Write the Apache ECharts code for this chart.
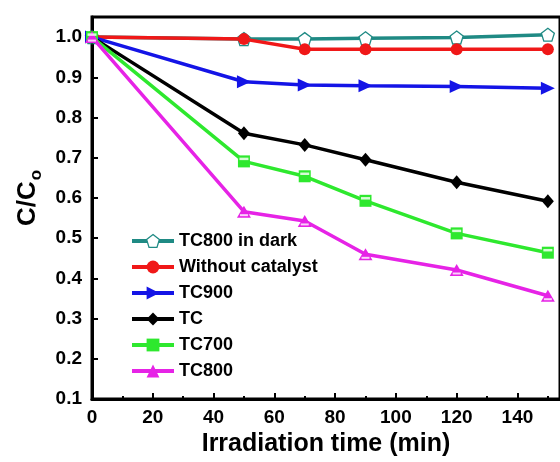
<!DOCTYPE html>
<html>
<head>
<meta charset="utf-8">
<script src="https://cdn.jsdelivr.net/npm/echarts@6/dist/echarts.min.js"></script>
<style>html,body{margin:0;padding:0;background:#fff}#c{width:560px;height:462px}</style>
</head>
<body>
<div id="c"></div>
<script>
const times = [0, 50, 70, 90, 120, 150];
const seriesNames = ['TC800 in dark', 'Without catalyst', 'TC900', 'TC', 'TC700', 'TC800'];
const tc800Dark = [1.0, 0.995, 0.995, 0.997, 0.999, 1.006];
const withoutCatalyst = [1.0, 0.995, 0.970, 0.970, 0.970, 0.970];
const tc900 = [1.0, 0.889, 0.881, 0.879, 0.877, 0.873];
const tc = [1.0, 0.761, 0.732, 0.695, 0.639, 0.592];
const tc700 = [1.0, 0.691, 0.654, 0.593, 0.512, 0.464];
const tc800 = [1.0, 0.566, 0.543, 0.460, 0.421, 0.357];
const xTicks = [0, 20, 40, 60, 80, 100, 120, 140];
const yTicks = [0.1, 0.2, 0.3, 0.4, 0.5, 0.6, 0.7, 0.8, 0.9, 1.0];

const allValues = [tc800Dark, withoutCatalyst, tc900, tc, tc700, tc800];
const colors = ['#1f8a84', '#f01818', '#1414e6', '#000000', '#2ee82e', '#e623e6'];
const symbols = [
  'path://M5,0 L10,3.8 L8.1,10 L1.9,10 L0,3.8 Z',
  'circle',
  'path://M0,0 L10,5 L0,10 Z',
  'diamond',
  'rect',
  'triangle'
];
const symbolSizes = [13, 12, [14, 13], [12, 14], 12, [14, 12]];
const font = 'Arial, "Liberation Sans", sans-serif';

const series = seriesNames.map((name, i) => ({
  name: name,
  type: 'line',
  data: times.map((t, j) => [t, allValues[i][j]]),
  symbol: symbols[i],
  symbolSize: symbolSizes[i],
  showAllSymbol: true,
  lineStyle: { color: colors[i], width: 3.5 },
  itemStyle: i === 0
    ? { color: '#ffffff', borderColor: colors[i], borderWidth: 1.3 }
    : { color: colors[i], borderWidth: 0 },
  emphasis: { disabled: true },
  z: 2 + i
}));
// white bands inside the half-filled markers (TC700 square, TC800 triangle)
series.push({
  type: 'scatter', silent: true,
  data: times.map((t, j) => [t, tc700[j]]),
  symbol: 'rect', symbolSize: [9, 2.5], symbolOffset: [0, -2.5],
  itemStyle: { color: '#ffffff' }, z: 20
});
series.push({
  type: 'scatter', silent: true,
  data: times.map((t, j) => [t, tc800[j]]),
  symbol: 'rect', symbolSize: [8, 2], symbolOffset: [0, 3.5],
  itemStyle: { color: '#ffffff' }, z: 20
});

const chart = echarts.init(document.getElementById('c'), null, { renderer: 'canvas' });
chart.setOption({
  animation: false,
  backgroundColor: '#ffffff',
  grid: {
    left: 92, top: 17, right: -2, bottom: 60,
    show: true, borderColor: '#000', borderWidth: 3, backgroundColor: 'transparent'
  },
  legend: {
    data: seriesNames.map((n, i) => ({ name: n, itemStyle: series[i].itemStyle, lineStyle: { width: 4 } })),
    orient: 'vertical',
    left: 130, top: 232,
    padding: 0,
    itemWidth: 42, itemHeight: 16,
    itemGap: 8,
    textStyle: { fontFamily: font, fontWeight: 'bold', fontSize: 18, color: '#000' }
  },
  graphic: [{
    type: 'text',
    x: 28, y: 198,
    rotation: Math.PI / 2,
    style: {
      text: '{a|C/C}{b|o}',
      align: 'center',
      verticalAlign: 'middle',
      rich: {
        a: { fontFamily: font, fontWeight: 'bold', fontSize: 26, fill: '#000' },
        b: { fontFamily: font, fontWeight: 'bold', fontSize: 17, fill: '#000', padding: [16, 0, 0, 1] }
      }
    }
  }],
  xAxis: {
    type: 'value',
    min: 0, max: 154, interval: 20,
    name: 'Irradiation time (min)',
    nameLocation: 'middle',
    nameGap: 31,
    nameTextStyle: { fontFamily: font, fontWeight: 'bold', fontSize: 25, color: '#000', verticalAlign: 'top' },
    axisLine: { lineStyle: { color: '#000', width: 3 } },
    axisTick: { inside: true, length: 6, lineStyle: { color: '#000', width: 2 } },
    minorTick: { show: true, splitNumber: 2, length: 3, lineStyle: { color: '#000', width: 2 } },
    splitLine: { show: false },
    axisLabel: {
      margin: 9, fontFamily: font, fontWeight: 'bold', fontSize: 19, color: '#000',
      showMaxLabel: false,
      formatter: v => xTicks.includes(v) ? String(v) : ''
    }
  },
  yAxis: {
    type: 'value',
    min: 0.1, max: 1.05, interval: 0.1,
    axisLine: { lineStyle: { color: '#000', width: 3 } },
    axisTick: { inside: true, length: 6, lineStyle: { color: '#000', width: 2 } },
    splitLine: { show: false },
    axisLabel: {
      margin: 10, fontFamily: font, fontWeight: 'bold', fontSize: 19, color: '#000',
      showMaxLabel: false,
      formatter: v => {
        const r = Math.round(v * 100) / 100;
        return yTicks.some(t => Math.abs(t - r) < 1e-6) ? r.toFixed(1) : '';
      }
    }
  },
  series: series
});
</script>
</body>
</html>
